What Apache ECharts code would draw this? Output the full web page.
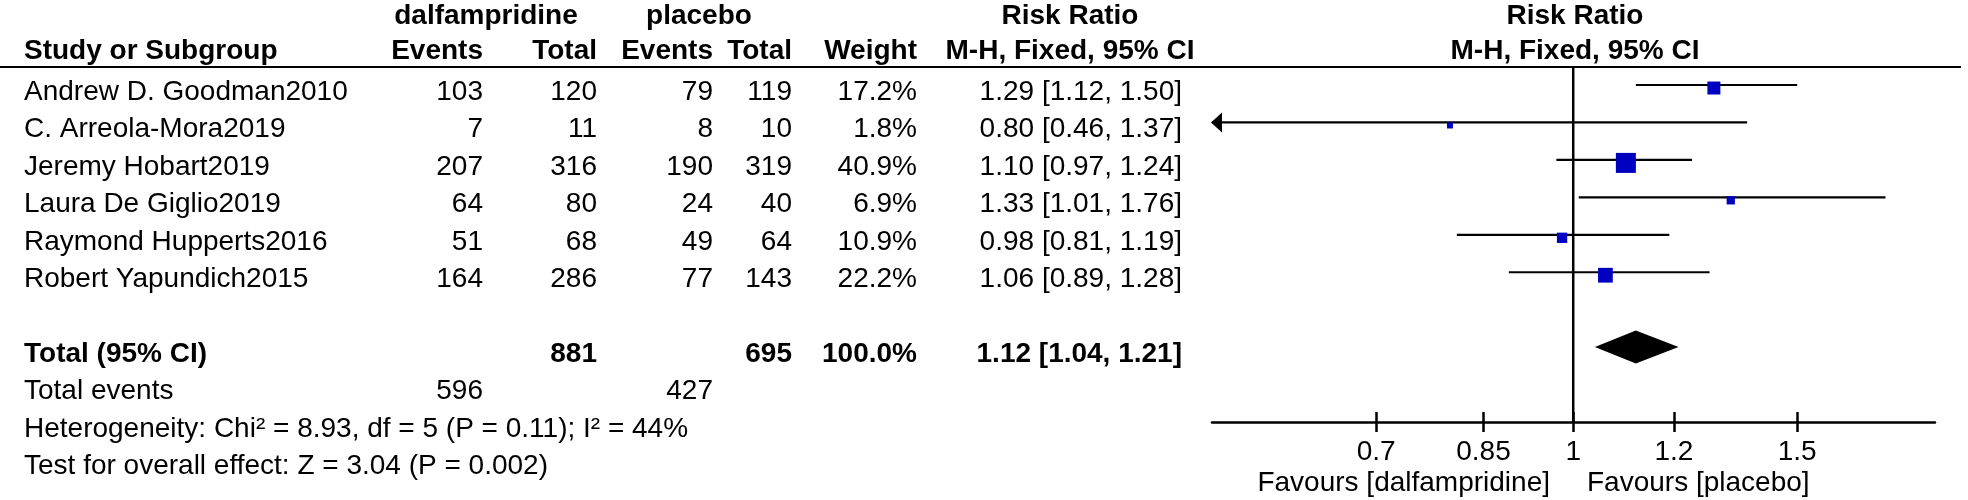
<!DOCTYPE html>
<html>
<head>
<meta charset="utf-8">
<script src="https://cdn.jsdelivr.net/npm/echarts@6/dist/echarts.min.js"></script>
<style>html,body{margin:0;padding:0;background:#fff;}#chart{width:1968px;height:500px;}</style>
</head>
<body>
<div id="chart"></div>
<script>
// ---------- data ----------
const studies = ['Andrew D. Goodman2010','C. Arreola-Mora2019','Jeremy Hobart2019','Laura De Giglio2019','Raymond Hupperts2016','Robert Yapundich2015'];
const dalEvents = [103, 7, 207, 64, 51, 164];
const dalTotal  = [120, 11, 316, 80, 68, 286];
const plaEvents = [79, 8, 190, 24, 49, 77];
const plaTotal  = [119, 10, 319, 40, 64, 143];
const weights   = [17.2, 1.8, 40.9, 6.9, 10.9, 22.2];
const rr        = [1.29, 0.80, 1.10, 1.33, 0.98, 1.06];
const rrLow     = [1.12, 0.46, 0.97, 1.01, 0.81, 0.89];
const rrHigh    = [1.50, 1.37, 1.24, 1.76, 1.19, 1.28];
const totalDal = 881, totalPla = 695, totalWeight = 100.0;
const totalRR = [1.12, 1.04, 1.21];
const totalEvents = [596, 427];
const heterogeneity = 'Heterogeneity: Chi² = 8.93, df = 5 (P = 0.11); I² = 44%';
const overallEffect = 'Test for overall effect: Z = 3.04 (P = 0.002)';
const tickValues = [0.7, 0.85, 1, 1.2, 1.5];
const favLeft = 'Favours [dalfampridine]';
const favRight = 'Favours [placebo]';

// ---------- layout ----------
const FF = '"Liberation Sans", Arial, sans-serif';
const FS = 28;
const XMIN = 0.52, XMAX = 1.925;
const col = {name: 24, dalEv: 483, dalTot: 597, plaEv: 713, plaTot: 792, weight: 917, rr: 1182, rrCenter: 1070, plotCenter: 1575};
const TEXT_DY = 7;

function fmtCI(a, b, c) { return a.toFixed(2) + ' [' + b.toFixed(2) + ', ' + c.toFixed(2) + ']'; }
function txt(t, x, y, align, bold) {
  return {type: 'text', x: x, y: y, style: {text: t, fill: '#000', fontSize: FS, fontFamily: FF, fontWeight: bold ? 'bold' : 'normal', align: align, verticalAlign: 'middle'}};
}

const chart = echarts.init(document.getElementById('chart'), null, {renderer: 'canvas'});

const tableRows = [];
studies.forEach((s, i) => tableRows.push({row: i, cells: [
  [s, col.name, 'left'], [String(dalEvents[i]), col.dalEv, 'right'], [String(dalTotal[i]), col.dalTot, 'right'],
  [String(plaEvents[i]), col.plaEv, 'right'], [String(plaTotal[i]), col.plaTot, 'right'],
  [weights[i].toFixed(1) + '%', col.weight, 'right'], [fmtCI(rr[i], rrLow[i], rrHigh[i]), col.rr, 'right']], bold: false}));
tableRows.push({row: 7, bold: true, cells: [['Total (95% CI)', col.name, 'left'], [String(totalDal), col.dalTot, 'right'], [String(totalPla), col.plaTot, 'right'], [totalWeight.toFixed(1) + '%', col.weight, 'right'], [fmtCI(totalRR[0], totalRR[1], totalRR[2]), col.rr, 'right']]});
tableRows.push({row: 8, bold: false, cells: [['Total events', col.name, 'left'], [String(totalEvents[0]), col.dalEv, 'right'], [String(totalEvents[1]), col.plaEv, 'right']]});
tableRows.push({row: 9, bold: false, cells: [[heterogeneity, col.name, 'left']]});
tableRows.push({row: 10, bold: false, cells: [[overallEffect, col.name, 'left']]});

const option = {
  animation: false,
  backgroundColor: '#fff',
  grid: {left: 1212, right: 33, top: 66.3, bottom: 78, containLabel: false},
  xAxis: [{
    type: 'log', min: XMIN, max: XMAX, logBase: 10, position: 'bottom',
    axisLine: {show: true, onZero: false, lineStyle: {color: '#000', width: 2.5}},
    axisTick: {show: true, inside: false, length: 10, lineStyle: {color: '#000', width: 2.5}, customValues: tickValues},
    axisLabel: {show: true, color: '#000', fontSize: FS, fontFamily: FF, margin: 16, customValues: tickValues, formatter: v => String(+v.toFixed(2))},
    splitLine: {show: false}
  }, {
    type: 'log', min: XMIN, max: XMAX, logBase: 10, position: 'bottom',
    axisLine: {show: false, onZero: false},
    axisTick: {show: true, inside: true, length: 10, lineStyle: {color: '#000', width: 2.5}, customValues: tickValues},
    axisLabel: {show: false},
    splitLine: {show: false}
  }],
  yAxis: {type: 'value', min: -0.5, max: 9, inverse: true, show: false},
  graphic: [
    {type: 'line', shape: {x1: 0, y1: 67, x2: 1961, y2: 67}, style: {stroke: '#000', lineWidth: 2}},
    txt('dalfampridine', 486, 16, 'center', true),
    txt('placebo', 699, 16, 'center', true),
    txt('Risk Ratio', col.rrCenter, 16, 'center', true),
    txt('Risk Ratio', col.plotCenter, 16, 'center', true),
    txt('Study or Subgroup', col.name, 51, 'left', true),
    txt('Events', col.dalEv, 51, 'right', true),
    txt('Total', col.dalTot, 51, 'right', true),
    txt('Events', col.plaEv, 51, 'right', true),
    txt('Total', col.plaTot, 51, 'right', true),
    txt('Weight', col.weight, 51, 'right', true),
    txt('M-H, Fixed, 95% CI', col.rrCenter, 51, 'center', true),
    txt('M-H, Fixed, 95% CI', col.plotCenter, 51, 'center', true),
    txt(favLeft, 1550, 483, 'right', false),
    txt(favRight, 1587, 483, 'left', false)
  ],
  series: [
    {
      type: 'line', name: 'null', data: [[1, -0.5], [1, 9]], symbol: 'none',
      lineStyle: {color: '#000', width: 2.5}, silent: true
    },
    {
      type: 'custom', name: 'studies', clip: false,
      data: rr.map((v, i) => [v, i, rrLow[i], rrHigh[i], weights[i]]),
      encode: {x: 0, y: 1},
      renderItem: function (params, api) {
        const v = api.value(0), i = api.value(1), lo = api.value(2), hi = api.value(3), w = api.value(4);
        const y = api.coord([1, i])[1];
        const xl = api.coord([Math.max(lo, XMIN), i])[0];
        const xh = api.coord([Math.min(hi, XMAX), i])[0];
        const xc = api.coord([v, i])[0];
        const children = [{type: 'line', shape: {x1: xl, y1: y, x2: xh, y2: y}, style: {stroke: '#000', lineWidth: 2.2}}];
        if (lo < XMIN) {
          children.push({type: 'polygon', shape: {points: [[xl - 1, y], [xl + 10, y - 10], [xl + 10, y + 10]]}, style: {fill: '#000'}});
        }
        const s = Math.max(6, 3.13 * Math.sqrt(w));
        children.push({type: 'rect', shape: {x: xc - s / 2, y: y + 3 - s / 2, width: s, height: s}, style: {fill: '#0000c0'}});
        return {type: 'group', children: children};
      }
    },
    {
      type: 'custom', name: 'total', clip: false,
      data: [[totalRR[0], 7, totalRR[1], totalRR[2]]],
      encode: {x: 0, y: 1},
      renderItem: function (params, api) {
        const v = api.value(0), i = api.value(1), lo = api.value(2), hi = api.value(3);
        const c = api.coord([v, i]);
        const l = api.coord([lo, i]), h = api.coord([hi, i]);
        return {type: 'polygon', shape: {points: [[l[0], c[1]], [c[0], c[1] - 16.5], [h[0], c[1]], [c[0], c[1] + 16.5]]}, style: {fill: '#000'}};
      }
    },
    {
      type: 'custom', name: 'table', clip: false,
      data: tableRows.map(r => [1, r.row]),
      encode: {x: 0, y: 1},
      renderItem: function (params, api) {
        const r = tableRows[params.dataIndex];
        const y = api.coord([1, api.value(1)])[1] + TEXT_DY;
        return {type: 'group', children: r.cells.map(c => txt(c[0], c[1], y, c[2], r.bold))};
      }
    }
  ]
};
chart.setOption(option);
</script>
</body>
</html>
